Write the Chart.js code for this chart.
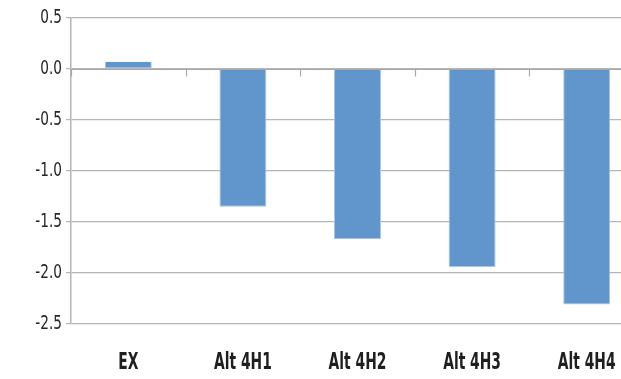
<!DOCTYPE html>
<html><head><meta charset="utf-8">
<script src="https://cdn.jsdelivr.net/npm/chart.js@4/dist/chart.umd.min.js"></script>
<style>
html,body{margin:0;padding:0;background:#fff;overflow:hidden;}
#wrap{width:621px;height:379px;overflow:hidden;position:relative;}
canvas{display:block;}
</style></head>
<body>
<div id="wrap"><canvas id="c" width="644" height="379"></canvas></div>
<script>
const categories = ["EX", "Alt 4H1", "Alt 4H2", "Alt 4H3", "Alt 4H4"];
const values = [0.07, -1.35, -1.67, -1.94, -2.31];
const yTicks = [0.5, 0.0, -0.5, -1.0, -1.5, -2.0, -2.5];

const FONT = "'DejaVu Sans Condensed', 'DejaVu Sans', sans-serif";

// zero-line category axis with tick marks at category boundaries
const zeroAxis = {
  id: 'zeroAxis',
  afterDatasetsDraw(chart) {
    const {ctx, scales: {x, y}} = chart;
    const y0 = Math.round(y.getPixelForValue(0)) + 0.5;
    ctx.save();
    ctx.strokeStyle = '#a9a9a9';
    ctx.lineWidth = 1.2;
    ctx.beginPath();
    ctx.moveTo(x.left, y0); ctx.lineTo(x.right, y0);
    for (let i = 0; i <= categories.length; i++) {
      const px = Math.round(x.getPixelForValue(i - 0.5)) + 0.5;
      ctx.moveTo(px, y0); ctx.lineTo(px, y0 + 7);
    }
    ctx.stroke();
    ctx.restore();
  }
};

// condensed tick labels drawn at the scales' positions
const condensedLabels = {
  id: 'condensedLabels',
  afterDraw(chart) {
    const {ctx, scales: {x, y}} = chart;
    ctx.save();
    // x labels
    ctx.fillStyle = '#1f1f1f';
    ctx.font = "bold 23px " + FONT;
    ctx.textAlign = 'center';
    ctx.textBaseline = 'alphabetic';
    const sx = 0.67;
    categories.forEach((lab, i) => {
      const px = x.getPixelForValue(i);
      ctx.save();
      ctx.translate(px, 369);
      ctx.scale(sx, 1);
      ctx.fillText(lab, 0, 0);
      ctx.restore();
    });
    // y labels
    ctx.fillStyle = '#262626';
    ctx.font = "500 19px " + FONT;
    ctx.textAlign = 'right';
    ctx.textBaseline = 'middle';
    const sy = 0.8;
    yTicks.forEach(v => {
      const py = y.getPixelForValue(v);
      ctx.save();
      ctx.translate(x.left - 9, py);
      ctx.scale(sy, 1);
      ctx.fillText(v.toFixed(1), 0, 0);
      ctx.restore();
    });
    ctx.restore();
  }
};

new Chart(document.getElementById('c'), {
  type: 'bar',
  data: {
    labels: categories,
    datasets: [{
      data: values,
      backgroundColor: '#6196cc',
      borderColor: '#a9c6e6',
      borderWidth: {left: 1, right: 1, top: 0, bottom: 1},
      borderSkipped: false,
      categoryPercentage: 1.0,
      barPercentage: 0.41
    }]
  },
  options: {
    responsive: false,
    animation: false,
    devicePixelRatio: 1,
    layout: {padding: {top: 18, right: 0, left: 0, bottom: 0}},
    plugins: {legend: {display: false}, tooltip: {enabled: false}},
    scales: {
      x: {
        grid: {display: false, drawTicks: false},
        border: {display: false},
        ticks: {display: false},
        afterFit(s) { s.height = 55; }
      },
      y: {
        min: -2.5, max: 0.5,
        afterBuildTicks(s) { s.ticks = yTicks.map(v => ({value: v})); },
        grid: {color: '#b5b5b5', lineWidth: 1.2, tickLength: 5, drawTicks: true},
        border: {display: true, color: '#b5b5b5', width: 1.5},
        ticks: {display: false},
        afterFit(s) { s.width = 71; }
      }
    }
  },
  plugins: [zeroAxis, condensedLabels]
});
</script>
</body></html>
